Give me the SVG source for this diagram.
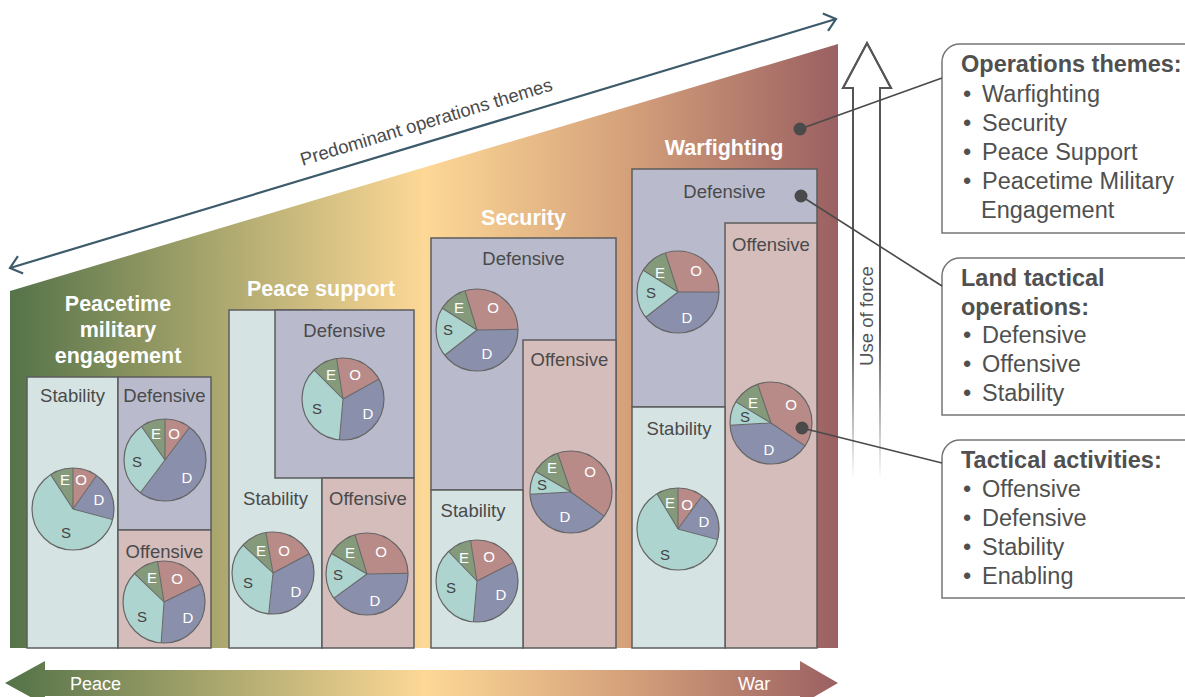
<svg xmlns="http://www.w3.org/2000/svg" width="1185" height="697" viewBox="0 0 1185 697">
<defs>
<linearGradient id="spec" gradientUnits="userSpaceOnUse" x1="10" y1="0" x2="838" y2="0">
<stop offset="0" stop-color="#557349"/>
<stop offset="0.25" stop-color="#aaa76e"/>
<stop offset="0.5" stop-color="#fdd896"/>
<stop offset="0.74" stop-color="#d5a27b"/>
<stop offset="1" stop-color="#9b6062"/>
</linearGradient>
<linearGradient id="fade" gradientUnits="userSpaceOnUse" x1="0" y1="330" x2="0" y2="480">
<stop offset="0" stop-color="#555" stop-opacity="1"/>
<stop offset="1" stop-color="#555" stop-opacity="0"/>
</linearGradient>
<marker id="chev" markerUnits="userSpaceOnUse" markerWidth="30" markerHeight="30" refX="0" refY="0" viewBox="-15 -15 30 30" orient="auto-start-reverse" overflow="visible">
<path d="M-11,-9 L0,0 L-11,9" fill="none" stroke="#3d5b6b" stroke-width="2.2"/>
</marker>
<style>
text{font-family:"Liberation Sans",Arial,sans-serif}
.title{font-size:21.5px;font-weight:bold;fill:#fff;text-anchor:middle}
.lbl{font-size:18.5px;fill:#4a4a4a;text-anchor:middle}
.st{fill:#d5e4e3;stroke:#5c5c5c;stroke-width:1.5}
.df{fill:#b9bbcc;stroke:#5c5c5c;stroke-width:1.5}
.of{fill:#d5bdbc;stroke:#5c5c5c;stroke-width:1.5}
.w{fill:none;stroke-width:41}
.wo{stroke:#b98b88}.wd{stroke:#8a8fab}.ws{stroke:#aed4d0}.we{stroke:#859a7b}
.sep{stroke:#666;stroke-width:1}
.rim{fill:none;stroke:#666;stroke-width:1.2}
.pl{font-size:15px;text-anchor:middle;fill:#fff}
.pls{font-size:15px;text-anchor:middle;fill:#444}
.box{fill:#fff;stroke:#767676;stroke-width:1.5}
.bt{font-size:23.5px;fill:#505050}
.bh{font-weight:bold}
.dot{fill:#4a4a4a}
.con{stroke:#4a4a4a;stroke-width:1.6;fill:none}
</style>
</defs>

<g id="background">
<polygon points="10,291 838,44 838,648 10,648" fill="url(#spec)"/>
</g>

<g id="predominant-arrow">
<line x1="10" y1="268" x2="836" y2="19" stroke="#3d5b6b" stroke-width="2.2" marker-start="url(#chev)" marker-end="url(#chev)"/>
<text x="428" y="128" transform="rotate(-16.8 428 128)" text-anchor="middle" font-size="18.5" fill="#4a4a4a">Predominant operations themes</text>
</g>

<g id="peace-war-arrow">
<polygon points="5,683 45,661 45,670 800,670 800,661 838,683 800,705 800,696 45,696 45,705" fill="url(#spec)"/>
<text x="70" y="690" font-size="18" fill="#fff">Peace</text>
<text x="738" y="690" font-size="18" fill="#fff">War</text>
</g>

<g id="use-of-force">
<path d="M853,480 V88 H843 L867,43 L891,88 H880 V480" fill="none" stroke="url(#fade)" stroke-width="2"/>
<path d="M853,330 V88 H843 L867,43 L891,88 H880 V330" fill="none" stroke="#555" stroke-width="2"/>
<text x="873" y="316" transform="rotate(-90 873 316)" text-anchor="middle" font-size="18.5" fill="#555">Use of force</text>
</g>

<!-- Section 1 -->
<g id="sec-peacetime">
<text class="title" x="118" y="311">Peacetime</text>
<text class="title" x="118" y="337">military</text>
<text class="title" x="118" y="363">engagement</text>
<g id="pme-stability">
<rect class="st" x="27" y="377" width="91" height="271"/>
<text class="lbl" x="72.5" y="402">Stability</text>
<g transform="translate(73,509)">
<circle class="w wo" r="20.5" pathLength="360" stroke-dasharray="35 999" transform="rotate(-90)"/>
<circle class="w wd" r="20.5" pathLength="360" stroke-dasharray="70 999" transform="rotate(-55)"/>
<circle class="w ws" r="20.5" pathLength="360" stroke-dasharray="222 999" transform="rotate(15)"/>
<circle class="w we" r="20.5" pathLength="360" stroke-dasharray="33 999" transform="rotate(237)"/>
<line class="sep" y2="-41" transform="rotate(0)"/><line class="sep" y2="-41" transform="rotate(35)"/><line class="sep" y2="-41" transform="rotate(105)"/><line class="sep" y2="-41" transform="rotate(327)"/>
<circle class="rim" r="41"/>
</g>
<text class="pl" x="65" y="485">E</text><text class="pl" x="81" y="485">O</text><text class="pl" x="99" y="505">D</text><text class="pls" x="66" y="538">S</text>
</g>
<g id="pme-defensive">
<rect class="df" x="118" y="377" width="93" height="153"/>
<text class="lbl" x="164.5" y="402">Defensive</text>
<g transform="translate(165,460)">
<circle class="w wo" r="20.5" pathLength="360" stroke-dasharray="37 999" transform="rotate(-90)"/>
<circle class="w wd" r="20.5" pathLength="360" stroke-dasharray="180 999" transform="rotate(-53)"/>
<circle class="w ws" r="20.5" pathLength="360" stroke-dasharray="108 999" transform="rotate(127)"/>
<circle class="w we" r="20.5" pathLength="360" stroke-dasharray="35 999" transform="rotate(235)"/>
<line class="sep" y2="-41" transform="rotate(0)"/><line class="sep" y2="-41" transform="rotate(37)"/><line class="sep" y2="-41" transform="rotate(217)"/><line class="sep" y2="-41" transform="rotate(325)"/>
<circle class="rim" r="41"/>
</g>
<text class="pl" x="156" y="439">E</text><text class="pl" x="174" y="439">O</text><text class="pls" x="137" y="467">S</text><text class="pl" x="187" y="483">D</text>
</g>
<g id="pme-offensive">
<rect class="of" x="118" y="530" width="93" height="118"/>
<text class="lbl" x="164.5" y="558">Offensive</text>
<g transform="translate(164,602)">
<circle class="w wo" r="20.5" pathLength="360" stroke-dasharray="73 999" transform="rotate(261)"/>
<circle class="w wd" r="20.5" pathLength="360" stroke-dasharray="120 999" transform="rotate(-26)"/>
<circle class="w ws" r="20.5" pathLength="360" stroke-dasharray="130 999" transform="rotate(94)"/>
<circle class="w we" r="20.5" pathLength="360" stroke-dasharray="37 999" transform="rotate(224)"/>
<line class="sep" y2="-41" transform="rotate(351)"/><line class="sep" y2="-41" transform="rotate(64)"/><line class="sep" y2="-41" transform="rotate(184)"/><line class="sep" y2="-41" transform="rotate(314)"/>
<circle class="rim" r="41"/>
</g>
<text class="pl" x="152" y="583">E</text><text class="pl" x="177" y="584">O</text><text class="pls" x="142" y="622">S</text><text class="pl" x="188" y="623">D</text>
</g>
</g>

<!-- Section 2 -->
<g id="sec-peace-support">
<text class="title" x="321" y="296">Peace support</text>
<g id="ps-stability">
<rect class="st" x="229" y="310" width="93" height="338"/>
<text class="lbl" x="275.5" y="505">Stability</text>
<g transform="translate(273,573)">
<circle class="w wo" r="20.5" pathLength="360" stroke-dasharray="72 999" transform="rotate(260)"/>
<circle class="w wd" r="20.5" pathLength="360" stroke-dasharray="124 999" transform="rotate(-28)"/>
<circle class="w ws" r="20.5" pathLength="360" stroke-dasharray="127 999" transform="rotate(96)"/>
<circle class="w we" r="20.5" pathLength="360" stroke-dasharray="37 999" transform="rotate(223)"/>
<line class="sep" y2="-41" transform="rotate(350)"/><line class="sep" y2="-41" transform="rotate(62)"/><line class="sep" y2="-41" transform="rotate(186)"/><line class="sep" y2="-41" transform="rotate(313)"/>
<circle class="rim" r="41"/>
</g>
<text class="pl" x="261" y="556">E</text><text class="pl" x="284" y="556">O</text><text class="pls" x="248" y="588">S</text><text class="pl" x="296" y="597">D</text>
</g>
<g id="ps-defensive">
<rect class="df" x="275" y="310" width="139" height="168"/>
<text class="lbl" x="344.5" y="337">Defensive</text>
<g transform="translate(343,399)">
<circle class="w wo" r="20.5" pathLength="360" stroke-dasharray="70 999" transform="rotate(261)"/>
<circle class="w wd" r="20.5" pathLength="360" stroke-dasharray="124 999" transform="rotate(-29)"/>
<circle class="w ws" r="20.5" pathLength="360" stroke-dasharray="130 999" transform="rotate(95)"/>
<circle class="w we" r="20.5" pathLength="360" stroke-dasharray="36 999" transform="rotate(225)"/>
<line class="sep" y2="-41" transform="rotate(351)"/><line class="sep" y2="-41" transform="rotate(61)"/><line class="sep" y2="-41" transform="rotate(185)"/><line class="sep" y2="-41" transform="rotate(315)"/>
<circle class="rim" r="41"/>
</g>
<text class="pl" x="331" y="380">E</text><text class="pl" x="355" y="380">O</text><text class="pls" x="317" y="414">S</text><text class="pl" x="368" y="419">D</text>
</g>
<g id="ps-offensive">
<rect class="of" x="322" y="478" width="92" height="170"/>
<text class="lbl" x="368" y="505">Offensive</text>
<g transform="translate(367,574)">
<circle class="w wo" r="20.5" pathLength="360" stroke-dasharray="106 999" transform="rotate(253)"/>
<circle class="w wd" r="20.5" pathLength="360" stroke-dasharray="145 999" transform="rotate(-1)"/>
<circle class="w ws" r="20.5" pathLength="360" stroke-dasharray="66 999" transform="rotate(144)"/>
<circle class="w we" r="20.5" pathLength="360" stroke-dasharray="43 999" transform="rotate(210)"/>
<line class="sep" y2="-41" transform="rotate(343)"/><line class="sep" y2="-41" transform="rotate(89)"/><line class="sep" y2="-41" transform="rotate(234)"/><line class="sep" y2="-41" transform="rotate(300)"/>
<circle class="rim" r="41"/>
</g>
<text class="pl" x="350" y="558">E</text><text class="pl" x="381" y="557">O</text><text class="pls" x="338" y="580">S</text><text class="pl" x="375" y="606">D</text>
</g>
</g>

<!-- Section 3 -->
<g id="sec-security">
<text class="title" x="523.5" y="225">Security</text>
<g id="sec-defensive">
<rect class="df" x="431" y="238" width="185" height="252"/>
<text class="lbl" x="523.5" y="265">Defensive</text>
<g transform="translate(477,330)">
<circle class="w wo" r="20.5" pathLength="360" stroke-dasharray="106 999" transform="rotate(253)"/>
<circle class="w wd" r="20.5" pathLength="360" stroke-dasharray="143 999" transform="rotate(-1)"/>
<circle class="w ws" r="20.5" pathLength="360" stroke-dasharray="70 999" transform="rotate(142)"/>
<circle class="w we" r="20.5" pathLength="360" stroke-dasharray="41 999" transform="rotate(212)"/>
<line class="sep" y2="-41" transform="rotate(343)"/><line class="sep" y2="-41" transform="rotate(89)"/><line class="sep" y2="-41" transform="rotate(232)"/><line class="sep" y2="-41" transform="rotate(302)"/>
<circle class="rim" r="41"/>
</g>
<text class="pl" x="459" y="313">E</text><text class="pl" x="493" y="313">O</text><text class="pls" x="448" y="335">S</text><text class="pl" x="487" y="359">D</text>
</g>
<g id="sec-offensive">
<rect class="of" x="523" y="340" width="93" height="308"/>
<text class="lbl" x="569.5" y="366">Offensive</text>
<g transform="translate(571,492)">
<circle class="w wo" r="20.5" pathLength="360" stroke-dasharray="145 999" transform="rotate(251)"/>
<circle class="w wd" r="20.5" pathLength="360" stroke-dasharray="141 999" transform="rotate(36)"/>
<circle class="w ws" r="20.5" pathLength="360" stroke-dasharray="33 999" transform="rotate(177)"/>
<circle class="w we" r="20.5" pathLength="360" stroke-dasharray="41 999" transform="rotate(210)"/>
<line class="sep" y2="-41" transform="rotate(341)"/><line class="sep" y2="-41" transform="rotate(126)"/><line class="sep" y2="-41" transform="rotate(267)"/><line class="sep" y2="-41" transform="rotate(300)"/>
<circle class="rim" r="41"/>
</g>
<text class="pl" x="552" y="473">E</text><text class="pl" x="590" y="477">O</text><text class="pls" x="542" y="490">S</text><text class="pl" x="565" y="522">D</text>
</g>
<g id="sec-stability">
<rect class="st" x="431" y="490" width="92" height="158"/>
<text class="lbl" x="473" y="517">Stability</text>
<g transform="translate(477,581)">
<circle class="w wo" r="20.5" pathLength="360" stroke-dasharray="72 999" transform="rotate(261)"/>
<circle class="w wd" r="20.5" pathLength="360" stroke-dasharray="122 999" transform="rotate(-27)"/>
<circle class="w ws" r="20.5" pathLength="360" stroke-dasharray="131 999" transform="rotate(95)"/>
<circle class="w we" r="20.5" pathLength="360" stroke-dasharray="35 999" transform="rotate(226)"/>
<line class="sep" y2="-41" transform="rotate(351)"/><line class="sep" y2="-41" transform="rotate(63)"/><line class="sep" y2="-41" transform="rotate(185)"/><line class="sep" y2="-41" transform="rotate(316)"/>
<circle class="rim" r="41"/>
</g>
<text class="pl" x="464" y="563">E</text><text class="pl" x="489" y="562">O</text><text class="pls" x="451" y="593">S</text><text class="pl" x="501" y="600">D</text>
</g>
</g>

<!-- Section 4 -->
<g id="sec-warfighting">
<text class="title" x="724" y="155">Warfighting</text>
<g id="wf-defensive">
<rect class="df" x="632" y="169" width="185" height="238"/>
<text class="lbl" x="724.5" y="198">Defensive</text>
<g transform="translate(678,292)">
<circle class="w wo" r="20.5" pathLength="360" stroke-dasharray="108 999" transform="rotate(252)"/>
<circle class="w wd" r="20.5" pathLength="360" stroke-dasharray="142 999" transform="rotate(0)"/>
<circle class="w ws" r="20.5" pathLength="360" stroke-dasharray="70 999" transform="rotate(142)"/>
<circle class="w we" r="20.5" pathLength="360" stroke-dasharray="40 999" transform="rotate(212)"/>
<line class="sep" y2="-41" transform="rotate(342)"/><line class="sep" y2="-41" transform="rotate(90)"/><line class="sep" y2="-41" transform="rotate(232)"/><line class="sep" y2="-41" transform="rotate(302)"/>
<circle class="rim" r="41"/>
</g>
<text class="pl" x="660" y="278">E</text><text class="pl" x="696" y="276">O</text><text class="pls" x="651" y="298">S</text><text class="pl" x="687" y="323">D</text>
</g>
<g id="wf-offensive">
<rect class="of" x="725" y="223" width="92" height="425"/>
<text class="lbl" x="771" y="251">Offensive</text>
<g transform="translate(771,423)">
<circle class="w wo" r="20.5" pathLength="360" stroke-dasharray="143 999" transform="rotate(251)"/>
<circle class="w wd" r="20.5" pathLength="360" stroke-dasharray="143 999" transform="rotate(34)"/>
<circle class="w ws" r="20.5" pathLength="360" stroke-dasharray="34 999" transform="rotate(177)"/>
<circle class="w we" r="20.5" pathLength="360" stroke-dasharray="40 999" transform="rotate(211)"/>
<line class="sep" y2="-41" transform="rotate(341)"/><line class="sep" y2="-41" transform="rotate(124)"/><line class="sep" y2="-41" transform="rotate(267)"/><line class="sep" y2="-41" transform="rotate(301)"/>
<circle class="rim" r="41"/>
</g>
<text class="pl" x="753" y="408">E</text><text class="pl" x="791" y="410">O</text><text class="pls" x="745" y="422">S</text><text class="pl" x="769" y="455">D</text>
</g>
<g id="wf-stability">
<rect class="st" x="632" y="407" width="93" height="241"/>
<text class="lbl" x="679" y="435">Stability</text>
<g transform="translate(678,529)">
<circle class="w wo" r="20.5" pathLength="360" stroke-dasharray="36 999" transform="rotate(-90)"/>
<circle class="w wd" r="20.5" pathLength="360" stroke-dasharray="69 999" transform="rotate(-54)"/>
<circle class="w ws" r="20.5" pathLength="360" stroke-dasharray="224 999" transform="rotate(15)"/>
<circle class="w we" r="20.5" pathLength="360" stroke-dasharray="31 999" transform="rotate(239)"/>
<line class="sep" y2="-41" transform="rotate(0)"/><line class="sep" y2="-41" transform="rotate(36)"/><line class="sep" y2="-41" transform="rotate(105)"/><line class="sep" y2="-41" transform="rotate(329)"/>
<circle class="rim" r="41"/>
</g>
<text class="pl" x="670" y="508">E</text><text class="pl" x="687" y="510">O</text><text class="pl" x="704" y="527">D</text><text class="pls" x="665" y="560">S</text>
</g>
</g>

<!-- Legend boxes -->
<g id="box-themes">
<path class="box" d="M1200,44 H960 A18,18 0 0 0 942,62 V233 H1200"/>
<text class="bt bh" x="961" y="72">Operations themes:</text>
<text class="bt" x="963" y="101.5">•</text><text class="bt" x="982" y="101.5">Warfighting</text>
<text class="bt" x="963" y="130.5">•</text><text class="bt" x="982" y="130.5">Security</text>
<text class="bt" x="963" y="159.5">•</text><text class="bt" x="982" y="159.5">Peace Support</text>
<text class="bt" x="963" y="188.5">•</text><text class="bt" x="982" y="188.5">Peacetime Military</text>
<text class="bt" x="981" y="217.5">Engagement</text>
</g>
<g id="box-land-tactical">
<path class="box" d="M1200,258 H960 A18,18 0 0 0 942,276 V415 H1200"/>
<text class="bt bh" x="961" y="286">Land tactical</text>
<text class="bt bh" x="961" y="315">operations:</text>
<text class="bt" x="963" y="343">•</text><text class="bt" x="982" y="343">Defensive</text>
<text class="bt" x="963" y="372">•</text><text class="bt" x="982" y="372">Offensive</text>
<text class="bt" x="963" y="400.5">•</text><text class="bt" x="982" y="400.5">Stability</text>
</g>
<g id="box-tactical-activities">
<path class="box" d="M1200,440 H960 A18,18 0 0 0 942,458 V598 H1200"/>
<text class="bt bh" x="961" y="468">Tactical activities:</text>
<text class="bt" x="963" y="497">•</text><text class="bt" x="982" y="497">Offensive</text>
<text class="bt" x="963" y="525.5">•</text><text class="bt" x="982" y="525.5">Defensive</text>
<text class="bt" x="963" y="554.5">•</text><text class="bt" x="982" y="554.5">Stability</text>
<text class="bt" x="963" y="583.5">•</text><text class="bt" x="982" y="583.5">Enabling</text>
</g>

<g id="connectors">
<line class="con" x1="800" y1="129" x2="942" y2="78"/>
<line class="con" x1="801" y1="196" x2="942" y2="286"/>
<line class="con" x1="802" y1="428" x2="942" y2="463"/>
<circle class="dot" cx="800" cy="129" r="6.5"/>
<circle class="dot" cx="801" cy="196" r="6.5"/>
<circle class="dot" cx="802" cy="428" r="6.5"/>
</g>
</svg>
